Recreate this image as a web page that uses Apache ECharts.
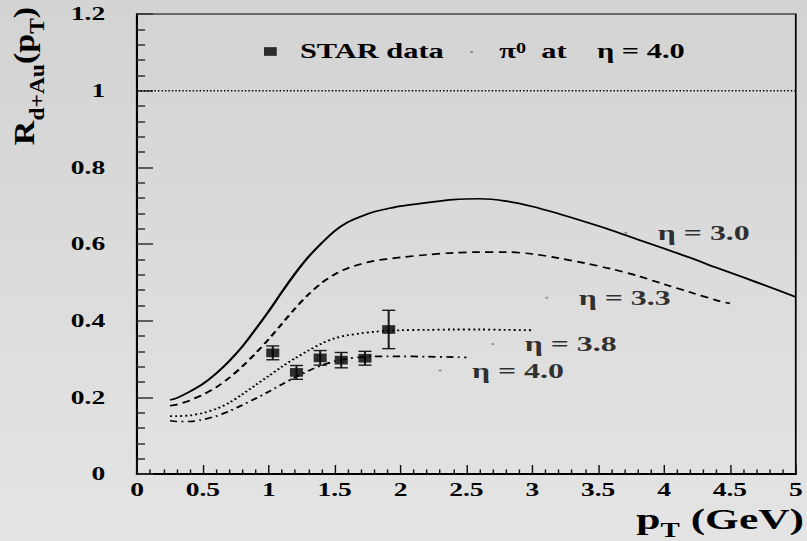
<!DOCTYPE html>
<html>
<head>
<meta charset="utf-8">
<script src="https://cdn.jsdelivr.net/npm/echarts@6/dist/echarts.min.js"></script>
<style>
  html, body { margin: 0; padding: 0; width: 807px; height: 541px; overflow: hidden; background: #dcdcdc; }
  /* the figure is drawn on a narrower canvas and widened, giving the broad ROOT-style lettering */
  #chart { width: 557px; height: 541px; transform: scaleX(1.44883); transform-origin: 0 0; }
</style>
</head>
<body>
<div id="chart"></div>
<script>
const FONT = '"Liberation Serif", "Times New Roman", serif';

// STAR d+Au minimum-bias points (pT in GeV, R_dAu, stat. error)
const starPt  = [1.03, 1.21, 1.39, 1.55, 1.73, 1.91];
const starR   = [0.316, 0.265, 0.303, 0.297, 0.302, 0.377];
const starErr = [0.018, 0.018, 0.019, 0.020, 0.018, 0.050];

// model curves, one per rapidity
const pt30 = [0.25,0.3,0.4,0.5,0.6,0.7,0.8,0.9,1.0,1.1,1.2,1.3,1.4,1.5,1.6,1.7,1.8,1.9,2.0,2.2,2.4,2.6,2.8,3.0,3.2,3.4,3.6,3.8,4.0,4.2,4.4,4.6,4.8,5.0];
const r30  = [0.193,0.198,0.215,0.235,0.262,0.295,0.333,0.378,0.425,0.475,0.523,0.566,0.602,0.634,0.657,0.672,0.684,0.692,0.699,0.708,0.716,0.718,0.712,0.698,0.679,0.658,0.636,0.612,0.588,0.564,0.538,0.513,0.488,0.462];

const pt33 = [0.25,0.3,0.4,0.5,0.6,0.7,0.8,0.9,1.0,1.1,1.2,1.3,1.4,1.5,1.6,1.7,1.8,1.9,2.0,2.2,2.4,2.6,2.8,3.0,3.2,3.4,3.6,3.8,4.0,4.2,4.4,4.5];
const r33  = [0.178,0.181,0.192,0.207,0.226,0.251,0.281,0.315,0.352,0.392,0.432,0.468,0.498,0.521,0.537,0.548,0.556,0.561,0.565,0.572,0.577,0.579,0.579,0.574,0.563,0.550,0.535,0.517,0.495,0.474,0.453,0.445];

const pt38 = [0.25,0.3,0.4,0.5,0.6,0.7,0.8,0.9,1.0,1.1,1.2,1.3,1.4,1.5,1.6,1.7,1.8,1.9,2.0,2.2,2.4,2.6,2.8,3.0];
const r38  = [0.151,0.151,0.153,0.159,0.170,0.186,0.208,0.232,0.256,0.280,0.302,0.322,0.340,0.354,0.362,0.367,0.371,0.373,0.375,0.376,0.377,0.377,0.376,0.375];

const pt40 = [0.25,0.3,0.4,0.5,0.6,0.7,0.8,0.9,1.0,1.1,1.2,1.3,1.4,1.5,1.6,1.7,1.8,1.9,2.0,2.2,2.4,2.5];
const r40  = [0.139,0.137,0.137,0.142,0.151,0.164,0.180,0.197,0.215,0.234,0.252,0.269,0.283,0.294,0.301,0.305,0.307,0.307,0.307,0.306,0.305,0.304];

// curve annotations: marker position (pT, R) and text
const etaLabels = ['η = 3.0', 'η = 3.3', 'η = 3.8', 'η = 4.0'];
const labelPt   = [3.71, 3.11, 2.70, 2.30];
const labelR    = [0.629, 0.460, 0.339, 0.270];

// reference line and axis ranges
const unityPt = [0, 5];
const unityR  = [1, 1];
const xRange = [0, 5], xStep = 0.5;
const yRange = [0, 1.2], yStep = 0.2;

const pairs = (xs, ys) => xs.map((x, i) => [x, ys[i]]);

const chart = echarts.init(document.getElementById('chart'), null, { renderer: 'svg' });

const curveBase = { type: 'line', showSymbol: false, smooth: 0.3, silent: true, z: 2 };

chart.setOption({
  animation: false,
  backgroundColor: {
    type: 'linear', x: 0, y: 0, x2: 0, y2: 1,
    colorStops: [{ offset: 0, color: '#d3d3d3' }, { offset: 1, color: '#e4e4e4' }]
  },
  grid: {
    left: 94.6, right: 0.6, top: 14, bottom: 67,
    show: true, borderColor: '#000', borderWidth: 1.2, backgroundColor: 'transparent'
  },
  legend: [
    {
      data: [{ name: 'STAR data', icon: 'rect' }],
      left: 182.2, top: 41, padding: 0,
      itemWidth: 8.8, itemHeight: 8.7, selectedMode: false,
      textStyle: { fontFamily: FONT, fontWeight: 'bold', fontSize: 21, color: '#000', padding: [0, 0, 0, 11] }
    },
    {
      data: [{ name: 'pi0', icon: 'circle', itemStyle: { color: '#777' } }],
      left: 324.6, top: 41, padding: 0,
      itemWidth: 2, itemHeight: 2, selectedMode: false,
      formatter: () => '{t|π}{s|0}{t|  at    η = 4.0}',
      textStyle: {
        fontFamily: FONT, fontWeight: 'bold', fontSize: 21, color: '#000', padding: [0, 0, 0, 13],
        rich: {
          t: { fontFamily: FONT, fontWeight: 'bold', fontSize: 21, color: '#000', lineHeight: 22, verticalAlign: 'top' },
          s: { fontFamily: FONT, fontWeight: 'bold', fontSize: 14, color: '#000', lineHeight: 4, verticalAlign: 'top' }
        }
      }
    }
  ],
  xAxis: {
    type: 'value', min: xRange[0], max: xRange[1], interval: xStep,
    axisLine: { lineStyle: { color: '#000', width: 2 } },
    axisTick: { inside: true, length: 9, lineStyle: { color: '#111', width: 1 } },
    minorTick: { show: true, splitNumber: 5, length: 4.5, lineStyle: { color: '#111', width: 1 } },
    splitLine: { show: false },
    axisLabel: { fontFamily: FONT, fontWeight: 'bold', fontSize: 19, color: '#000', margin: 6 }
  },
  yAxis: {
    type: 'value', min: yRange[0], max: yRange[1], interval: yStep,
    axisLine: { show: true, lineStyle: { color: '#000', width: 1.4 } },
    axisTick: { show: true, inside: true, length: 11, lineStyle: { color: '#333', width: 1.5 } },
    minorTick: { show: true, splitNumber: 5, length: 5.5, lineStyle: { color: '#333', width: 1.5 } },
    splitLine: { show: false },
    axisLabel: { fontFamily: FONT, fontWeight: 'bold', fontSize: 19, color: '#000', margin: 22 }
  },
  graphic: [
    {
      // vertical axis title; subscripts sit at the bottom of a taller line box
      type: 'text', x: 19.6, y: 76, rotation: Math.PI / 2, scaleY: 0.6,
      style: {
        text: '{m|R}{s|d+Au}{m|(p}{s|T}{m|)}',
        align: 'center', verticalAlign: 'middle',
        rich: {
          m: { fontFamily: FONT, fontWeight: 'bold', fontSize: 34, fill: '#000', lineHeight: 34, verticalAlign: 'top' },
          s: { fontFamily: FONT, fontWeight: 'bold', fontSize: 23.5, fill: '#000', lineHeight: 44, verticalAlign: 'bottom' }
        }
      }
    },
    {
      type: 'text', right: 2, top: 504,
      style: {
        text: '{m|p}{s|T}{m| (GeV)}',
        rich: {
          m: { fontFamily: FONT, fontWeight: 'bold', fontSize: 30, fill: '#000', lineHeight: 30, verticalAlign: 'top' },
          s: { fontFamily: FONT, fontWeight: 'bold', fontSize: 20, fill: '#000', lineHeight: 36, verticalAlign: 'bottom' }
        }
      }
    }
  ],
  series: [
    {
      type: 'line', name: 'unity', data: pairs(unityPt, unityR), showSymbol: false, silent: true,
      lineStyle: { color: '#000', width: 1.5, type: [1, 1.4] }, z: 1
    },
    Object.assign({ name: 'η = 3.0', data: pairs(pt30, r30), lineStyle: { color: '#000', width: 1.7, type: 'solid' } }, curveBase),
    Object.assign({ name: 'η = 3.3', data: pairs(pt33, r33), lineStyle: { color: '#000', width: 1.7, type: [5.5, 3.7] } }, curveBase),
    Object.assign({ name: 'η = 3.8', data: pairs(pt38, r38), lineStyle: { color: '#000', width: 1.8, type: [1.4, 2.1] } }, curveBase),
    Object.assign({ name: 'η = 4.0', data: pairs(pt40, r40), lineStyle: { color: '#000', width: 1.7, type: [5, 3, 1.3, 3] } }, curveBase),
    {
      type: 'custom', name: 'STAR errors', silent: true, z: 3,
      data: starPt.map((x, i) => [x, starR[i] - starErr[i], starR[i] + starErr[i]]),
      encode: { x: 0, y: [1, 2] },
      renderItem(params, api) {
        const lo = api.coord([api.value(0), api.value(1)]);
        const hi = api.coord([api.value(0), api.value(2)]);
        const cap = 4.5;
        const st = { stroke: '#1a1a1a', lineWidth: 1.4 };
        return {
          type: 'group',
          children: [
            { type: 'line', shape: { x1: lo[0], y1: lo[1], x2: hi[0], y2: hi[1] }, style: st },
            { type: 'line', shape: { x1: lo[0] - cap, y1: lo[1], x2: lo[0] + cap, y2: lo[1] }, style: st },
            { type: 'line', shape: { x1: hi[0] - cap, y1: hi[1], x2: hi[0] + cap, y2: hi[1] }, style: st }
          ]
        };
      }
    },
    {
      type: 'scatter', name: 'STAR data', data: pairs(starPt, starR), z: 4,
      symbol: 'rect', symbolSize: [9, 8.7], itemStyle: { color: '#000' }
    },
    {
      type: 'scatter', name: 'curve labels', data: pairs(labelPt, labelR), z: 4, silent: true,
      symbol: 'circle', symbolSize: 2, itemStyle: { color: '#777' },
      label: {
        show: true, position: 'right', distance: 21,
        formatter: p => etaLabels[p.dataIndex],
        fontFamily: FONT, fontWeight: 'bold', fontSize: 22, color: '#000'
      }
    },
    { type: 'line', name: 'pi0', data: [] }
  ]
});
</script>
</body>
</html>
